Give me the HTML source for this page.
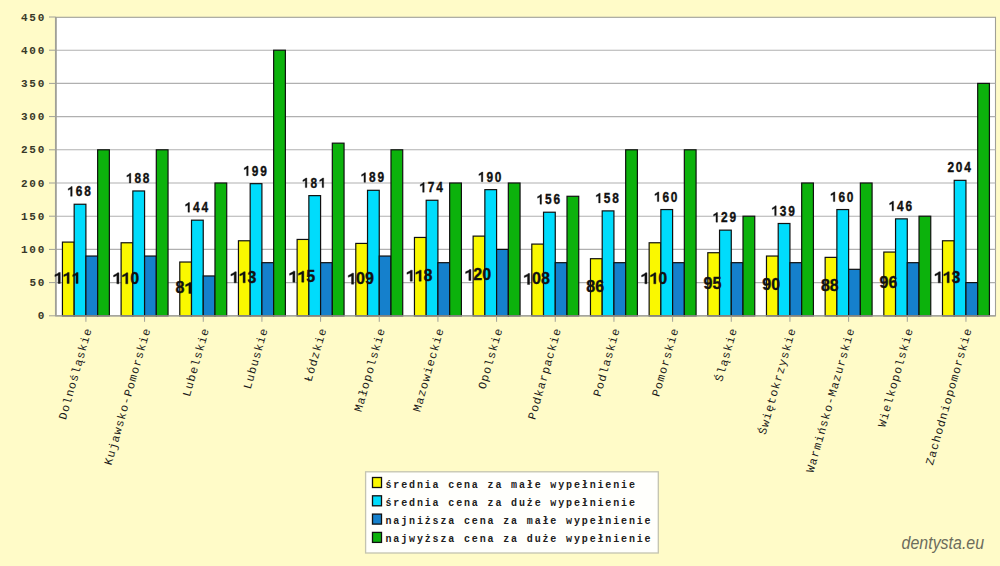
<!DOCTYPE html>
<html><head><meta charset="utf-8"><title>Ceny wypełnień</title><style>html,body{margin:0;padding:0;background:#FFFBC8;overflow:hidden;}svg{display:block;}</style></head><body>
<svg width="1000" height="566" viewBox="0 0 1000 566">
<rect x="0" y="0" width="1000" height="566" fill="#FFFBC8"/>
<rect x="55.50" y="17.30" width="940.00" height="298.50" fill="#FFFFFF" stroke="#A0A098" stroke-width="1.1"/>
<line x1="55.50" y1="282.60" x2="995.50" y2="282.60" stroke="#B0B0B0" stroke-width="1.10"/>
<line x1="55.50" y1="249.40" x2="995.50" y2="249.40" stroke="#B0B0B0" stroke-width="1.10"/>
<line x1="55.50" y1="216.20" x2="995.50" y2="216.20" stroke="#B0B0B0" stroke-width="1.10"/>
<line x1="55.50" y1="183.00" x2="995.50" y2="183.00" stroke="#B0B0B0" stroke-width="1.10"/>
<line x1="55.50" y1="149.80" x2="995.50" y2="149.80" stroke="#B0B0B0" stroke-width="1.10"/>
<line x1="55.50" y1="116.60" x2="995.50" y2="116.60" stroke="#B0B0B0" stroke-width="1.10"/>
<line x1="55.50" y1="83.40" x2="995.50" y2="83.40" stroke="#B0B0B0" stroke-width="1.10"/>
<line x1="55.50" y1="50.20" x2="995.50" y2="50.20" stroke="#B0B0B0" stroke-width="1.10"/>
<line x1="49" y1="315.80" x2="55.50" y2="315.80" stroke="#A0A098" stroke-width="1"/>
<text x="46.20" y="319.30" text-anchor="end" font-family="Liberation Mono, monospace" font-weight="bold" font-size="11.00" letter-spacing="1.80" fill="#383828">0</text>
<line x1="49" y1="282.60" x2="55.50" y2="282.60" stroke="#A0A098" stroke-width="1"/>
<text x="46.20" y="286.10" text-anchor="end" font-family="Liberation Mono, monospace" font-weight="bold" font-size="11.00" letter-spacing="1.80" fill="#383828">50</text>
<line x1="49" y1="249.40" x2="55.50" y2="249.40" stroke="#A0A098" stroke-width="1"/>
<text x="46.20" y="252.90" text-anchor="end" font-family="Liberation Mono, monospace" font-weight="bold" font-size="11.00" letter-spacing="1.80" fill="#383828">100</text>
<line x1="49" y1="216.20" x2="55.50" y2="216.20" stroke="#A0A098" stroke-width="1"/>
<text x="46.20" y="219.70" text-anchor="end" font-family="Liberation Mono, monospace" font-weight="bold" font-size="11.00" letter-spacing="1.80" fill="#383828">150</text>
<line x1="49" y1="183.00" x2="55.50" y2="183.00" stroke="#A0A098" stroke-width="1"/>
<text x="46.20" y="186.50" text-anchor="end" font-family="Liberation Mono, monospace" font-weight="bold" font-size="11.00" letter-spacing="1.80" fill="#383828">200</text>
<line x1="49" y1="149.80" x2="55.50" y2="149.80" stroke="#A0A098" stroke-width="1"/>
<text x="46.20" y="153.30" text-anchor="end" font-family="Liberation Mono, monospace" font-weight="bold" font-size="11.00" letter-spacing="1.80" fill="#383828">250</text>
<line x1="49" y1="116.60" x2="55.50" y2="116.60" stroke="#A0A098" stroke-width="1"/>
<text x="46.20" y="120.10" text-anchor="end" font-family="Liberation Mono, monospace" font-weight="bold" font-size="11.00" letter-spacing="1.80" fill="#383828">300</text>
<line x1="49" y1="83.40" x2="55.50" y2="83.40" stroke="#A0A098" stroke-width="1"/>
<text x="46.20" y="86.90" text-anchor="end" font-family="Liberation Mono, monospace" font-weight="bold" font-size="11.00" letter-spacing="1.80" fill="#383828">350</text>
<line x1="49" y1="50.20" x2="55.50" y2="50.20" stroke="#A0A098" stroke-width="1"/>
<text x="46.20" y="53.70" text-anchor="end" font-family="Liberation Mono, monospace" font-weight="bold" font-size="11.00" letter-spacing="1.80" fill="#383828">400</text>
<line x1="49" y1="17.00" x2="55.50" y2="17.00" stroke="#A0A098" stroke-width="1"/>
<text x="46.20" y="20.50" text-anchor="end" font-family="Liberation Mono, monospace" font-weight="bold" font-size="11.00" letter-spacing="1.80" fill="#383828">450</text>
<rect x="62.44" y="242.10" width="11.73" height="73.70" fill="#FAF800" stroke="#101010" stroke-width="1.20"/>
<rect x="74.17" y="204.25" width="11.73" height="111.55" fill="#00DCFC" stroke="#101010" stroke-width="1.20"/>
<rect x="85.91" y="256.04" width="11.73" height="59.76" fill="#1580CC" stroke="#101010" stroke-width="1.20"/>
<rect x="97.64" y="149.80" width="11.73" height="166.00" fill="#0CB20C" stroke="#101010" stroke-width="1.20"/>
<rect x="121.11" y="242.76" width="11.73" height="73.04" fill="#FAF800" stroke="#101010" stroke-width="1.20"/>
<rect x="132.84" y="190.97" width="11.73" height="124.83" fill="#00DCFC" stroke="#101010" stroke-width="1.20"/>
<rect x="144.58" y="256.04" width="11.73" height="59.76" fill="#1580CC" stroke="#101010" stroke-width="1.20"/>
<rect x="156.31" y="149.80" width="11.73" height="166.00" fill="#0CB20C" stroke="#101010" stroke-width="1.20"/>
<rect x="179.78" y="262.02" width="11.73" height="53.78" fill="#FAF800" stroke="#101010" stroke-width="1.20"/>
<rect x="191.51" y="220.18" width="11.73" height="95.62" fill="#00DCFC" stroke="#101010" stroke-width="1.20"/>
<rect x="203.24" y="275.96" width="11.73" height="39.84" fill="#1580CC" stroke="#101010" stroke-width="1.20"/>
<rect x="214.98" y="183.00" width="11.73" height="132.80" fill="#0CB20C" stroke="#101010" stroke-width="1.20"/>
<rect x="238.45" y="240.77" width="11.73" height="75.03" fill="#FAF800" stroke="#101010" stroke-width="1.20"/>
<rect x="250.18" y="183.66" width="11.73" height="132.14" fill="#00DCFC" stroke="#101010" stroke-width="1.20"/>
<rect x="261.91" y="262.68" width="11.73" height="53.12" fill="#1580CC" stroke="#101010" stroke-width="1.20"/>
<rect x="273.65" y="50.20" width="11.73" height="265.60" fill="#0CB20C" stroke="#101010" stroke-width="1.20"/>
<rect x="297.12" y="239.44" width="11.73" height="76.36" fill="#FAF800" stroke="#101010" stroke-width="1.20"/>
<rect x="308.85" y="195.62" width="11.73" height="120.18" fill="#00DCFC" stroke="#101010" stroke-width="1.20"/>
<rect x="320.59" y="262.68" width="11.73" height="53.12" fill="#1580CC" stroke="#101010" stroke-width="1.20"/>
<rect x="332.32" y="143.16" width="11.73" height="172.64" fill="#0CB20C" stroke="#101010" stroke-width="1.20"/>
<rect x="355.79" y="243.42" width="11.73" height="72.38" fill="#FAF800" stroke="#101010" stroke-width="1.20"/>
<rect x="367.52" y="190.30" width="11.73" height="125.50" fill="#00DCFC" stroke="#101010" stroke-width="1.20"/>
<rect x="379.26" y="256.04" width="11.73" height="59.76" fill="#1580CC" stroke="#101010" stroke-width="1.20"/>
<rect x="390.99" y="149.80" width="11.73" height="166.00" fill="#0CB20C" stroke="#101010" stroke-width="1.20"/>
<rect x="414.46" y="237.45" width="11.73" height="78.35" fill="#FAF800" stroke="#101010" stroke-width="1.20"/>
<rect x="426.19" y="200.26" width="11.73" height="115.54" fill="#00DCFC" stroke="#101010" stroke-width="1.20"/>
<rect x="437.93" y="262.68" width="11.73" height="53.12" fill="#1580CC" stroke="#101010" stroke-width="1.20"/>
<rect x="449.66" y="183.00" width="11.73" height="132.80" fill="#0CB20C" stroke="#101010" stroke-width="1.20"/>
<rect x="473.13" y="236.12" width="11.73" height="79.68" fill="#FAF800" stroke="#101010" stroke-width="1.20"/>
<rect x="484.86" y="189.64" width="11.73" height="126.16" fill="#00DCFC" stroke="#101010" stroke-width="1.20"/>
<rect x="496.60" y="249.40" width="11.73" height="66.40" fill="#1580CC" stroke="#101010" stroke-width="1.20"/>
<rect x="508.33" y="183.00" width="11.73" height="132.80" fill="#0CB20C" stroke="#101010" stroke-width="1.20"/>
<rect x="531.80" y="244.09" width="11.73" height="71.71" fill="#FAF800" stroke="#101010" stroke-width="1.20"/>
<rect x="543.53" y="212.22" width="11.73" height="103.58" fill="#00DCFC" stroke="#101010" stroke-width="1.20"/>
<rect x="555.26" y="262.68" width="11.73" height="53.12" fill="#1580CC" stroke="#101010" stroke-width="1.20"/>
<rect x="567.00" y="196.28" width="11.73" height="119.52" fill="#0CB20C" stroke="#101010" stroke-width="1.20"/>
<rect x="590.47" y="258.70" width="11.73" height="57.10" fill="#FAF800" stroke="#101010" stroke-width="1.20"/>
<rect x="602.20" y="210.89" width="11.73" height="104.91" fill="#00DCFC" stroke="#101010" stroke-width="1.20"/>
<rect x="613.93" y="262.68" width="11.73" height="53.12" fill="#1580CC" stroke="#101010" stroke-width="1.20"/>
<rect x="625.67" y="149.80" width="11.73" height="166.00" fill="#0CB20C" stroke="#101010" stroke-width="1.20"/>
<rect x="649.14" y="242.76" width="11.73" height="73.04" fill="#FAF800" stroke="#101010" stroke-width="1.20"/>
<rect x="660.87" y="209.56" width="11.73" height="106.24" fill="#00DCFC" stroke="#101010" stroke-width="1.20"/>
<rect x="672.61" y="262.68" width="11.73" height="53.12" fill="#1580CC" stroke="#101010" stroke-width="1.20"/>
<rect x="684.34" y="149.80" width="11.73" height="166.00" fill="#0CB20C" stroke="#101010" stroke-width="1.20"/>
<rect x="707.81" y="252.72" width="11.73" height="63.08" fill="#FAF800" stroke="#101010" stroke-width="1.20"/>
<rect x="719.54" y="230.14" width="11.73" height="85.66" fill="#00DCFC" stroke="#101010" stroke-width="1.20"/>
<rect x="731.27" y="262.68" width="11.73" height="53.12" fill="#1580CC" stroke="#101010" stroke-width="1.20"/>
<rect x="743.01" y="216.20" width="11.73" height="99.60" fill="#0CB20C" stroke="#101010" stroke-width="1.20"/>
<rect x="766.48" y="256.04" width="11.73" height="59.76" fill="#FAF800" stroke="#101010" stroke-width="1.20"/>
<rect x="778.21" y="223.50" width="11.73" height="92.30" fill="#00DCFC" stroke="#101010" stroke-width="1.20"/>
<rect x="789.94" y="262.68" width="11.73" height="53.12" fill="#1580CC" stroke="#101010" stroke-width="1.20"/>
<rect x="801.68" y="183.00" width="11.73" height="132.80" fill="#0CB20C" stroke="#101010" stroke-width="1.20"/>
<rect x="825.15" y="257.37" width="11.73" height="58.43" fill="#FAF800" stroke="#101010" stroke-width="1.20"/>
<rect x="836.88" y="209.56" width="11.73" height="106.24" fill="#00DCFC" stroke="#101010" stroke-width="1.20"/>
<rect x="848.62" y="269.32" width="11.73" height="46.48" fill="#1580CC" stroke="#101010" stroke-width="1.20"/>
<rect x="860.35" y="183.00" width="11.73" height="132.80" fill="#0CB20C" stroke="#101010" stroke-width="1.20"/>
<rect x="883.82" y="252.06" width="11.73" height="63.74" fill="#FAF800" stroke="#101010" stroke-width="1.20"/>
<rect x="895.55" y="218.86" width="11.73" height="96.94" fill="#00DCFC" stroke="#101010" stroke-width="1.20"/>
<rect x="907.28" y="262.68" width="11.73" height="53.12" fill="#1580CC" stroke="#101010" stroke-width="1.20"/>
<rect x="919.02" y="216.20" width="11.73" height="99.60" fill="#0CB20C" stroke="#101010" stroke-width="1.20"/>
<rect x="942.49" y="240.77" width="11.73" height="75.03" fill="#FAF800" stroke="#101010" stroke-width="1.20"/>
<rect x="954.22" y="180.34" width="11.73" height="135.46" fill="#00DCFC" stroke="#101010" stroke-width="1.20"/>
<rect x="965.96" y="282.60" width="11.73" height="33.20" fill="#1580CC" stroke="#101010" stroke-width="1.20"/>
<rect x="977.69" y="83.40" width="11.73" height="232.40" fill="#0CB20C" stroke="#101010" stroke-width="1.20"/>
<line x1="56.00" y1="17.00" x2="56.00" y2="315.80" stroke="#A0A098" stroke-width="1.60"/>
<line x1="55.50" y1="315.80" x2="995.50" y2="315.80" stroke="#A0A098" stroke-width="1.2"/>
<line x1="85.91" y1="315.80" x2="85.91" y2="321.80" stroke="#A0A098" stroke-width="1"/>
<line x1="144.57" y1="315.80" x2="144.57" y2="321.80" stroke="#A0A098" stroke-width="1"/>
<line x1="203.25" y1="315.80" x2="203.25" y2="321.80" stroke="#A0A098" stroke-width="1"/>
<line x1="261.92" y1="315.80" x2="261.92" y2="321.80" stroke="#A0A098" stroke-width="1"/>
<line x1="320.58" y1="315.80" x2="320.58" y2="321.80" stroke="#A0A098" stroke-width="1"/>
<line x1="379.25" y1="315.80" x2="379.25" y2="321.80" stroke="#A0A098" stroke-width="1"/>
<line x1="437.93" y1="315.80" x2="437.93" y2="321.80" stroke="#A0A098" stroke-width="1"/>
<line x1="496.60" y1="315.80" x2="496.60" y2="321.80" stroke="#A0A098" stroke-width="1"/>
<line x1="555.26" y1="315.80" x2="555.26" y2="321.80" stroke="#A0A098" stroke-width="1"/>
<line x1="613.94" y1="315.80" x2="613.94" y2="321.80" stroke="#A0A098" stroke-width="1"/>
<line x1="672.61" y1="315.80" x2="672.61" y2="321.80" stroke="#A0A098" stroke-width="1"/>
<line x1="731.28" y1="315.80" x2="731.28" y2="321.80" stroke="#A0A098" stroke-width="1"/>
<line x1="789.95" y1="315.80" x2="789.95" y2="321.80" stroke="#A0A098" stroke-width="1"/>
<line x1="848.62" y1="315.80" x2="848.62" y2="321.80" stroke="#A0A098" stroke-width="1"/>
<line x1="907.29" y1="315.80" x2="907.29" y2="321.80" stroke="#A0A098" stroke-width="1"/>
<line x1="965.96" y1="315.80" x2="965.96" y2="321.80" stroke="#A0A098" stroke-width="1"/>
<g transform="translate(67.10 283.48) scale(1.000 1)"><text x="-13.35" y="0" font-family="Liberation Sans, sans-serif" font-weight="bold" font-size="16.00" letter-spacing="0.00" fill="#111" stroke="#111" stroke-width="0.40">   </text><path transform="translate(-13.35 0) scale(0.00781 -0.00781)" d="M565 0L565 1050L150 880L150 1110L520 1290L640 1409L836 1409L836 0Z" fill="#111" stroke="#111" stroke-width="51.2"/><path transform="translate(-4.45 0) scale(0.00781 -0.00781)" d="M565 0L565 1050L150 880L150 1110L520 1290L640 1409L836 1409L836 0Z" fill="#111" stroke="#111" stroke-width="51.2"/><path transform="translate(4.45 0) scale(0.00781 -0.00781)" d="M565 0L565 1050L150 880L150 1110L520 1290L640 1409L836 1409L836 0Z" fill="#111" stroke="#111" stroke-width="51.2"/></g>
<g transform="translate(79.04 196.25) scale(0.850 1)"><text x="-13.78" y="0" font-family="Liberation Sans, sans-serif" font-weight="bold" font-size="14.00" letter-spacing="2.10" fill="#111" stroke="#111" stroke-width="0.35"> 68</text><path transform="translate(-13.78 0) scale(0.00684 -0.00684)" d="M565 0L565 1050L150 880L150 1110L520 1290L640 1409L836 1409L836 0Z" fill="#111" stroke="#111" stroke-width="51.2"/></g>
<g transform="translate(125.77 283.81) scale(1.000 1)"><text x="-13.35" y="0" font-family="Liberation Sans, sans-serif" font-weight="bold" font-size="16.00" letter-spacing="0.00" fill="#111" stroke="#111" stroke-width="0.40">  0</text><path transform="translate(-13.35 0) scale(0.00781 -0.00781)" d="M565 0L565 1050L150 880L150 1110L520 1290L640 1409L836 1409L836 0Z" fill="#111" stroke="#111" stroke-width="51.2"/><path transform="translate(-4.45 0) scale(0.00781 -0.00781)" d="M565 0L565 1050L150 880L150 1110L520 1290L640 1409L836 1409L836 0Z" fill="#111" stroke="#111" stroke-width="51.2"/></g>
<g transform="translate(137.71 182.97) scale(0.850 1)"><text x="-13.78" y="0" font-family="Liberation Sans, sans-serif" font-weight="bold" font-size="14.00" letter-spacing="2.10" fill="#111" stroke="#111" stroke-width="0.35"> 88</text><path transform="translate(-13.78 0) scale(0.00684 -0.00684)" d="M565 0L565 1050L150 880L150 1110L520 1290L640 1409L836 1409L836 0Z" fill="#111" stroke="#111" stroke-width="51.2"/></g>
<g transform="translate(184.44 293.44) scale(1.000 1)"><text x="-8.90" y="0" font-family="Liberation Sans, sans-serif" font-weight="bold" font-size="16.00" letter-spacing="0.00" fill="#111" stroke="#111" stroke-width="0.40">8 </text><path transform="translate(0.00 0) scale(0.00781 -0.00781)" d="M565 0L565 1050L150 880L150 1110L520 1290L640 1409L836 1409L836 0Z" fill="#111" stroke="#111" stroke-width="51.2"/></g>
<g transform="translate(196.38 212.18) scale(0.850 1)"><text x="-13.78" y="0" font-family="Liberation Sans, sans-serif" font-weight="bold" font-size="14.00" letter-spacing="2.10" fill="#111" stroke="#111" stroke-width="0.35"> 44</text><path transform="translate(-13.78 0) scale(0.00684 -0.00684)" d="M565 0L565 1050L150 880L150 1110L520 1290L640 1409L836 1409L836 0Z" fill="#111" stroke="#111" stroke-width="51.2"/></g>
<g transform="translate(243.11 282.81) scale(1.000 1)"><text x="-13.35" y="0" font-family="Liberation Sans, sans-serif" font-weight="bold" font-size="16.00" letter-spacing="0.00" fill="#111" stroke="#111" stroke-width="0.40">  3</text><path transform="translate(-13.35 0) scale(0.00781 -0.00781)" d="M565 0L565 1050L150 880L150 1110L520 1290L640 1409L836 1409L836 0Z" fill="#111" stroke="#111" stroke-width="51.2"/><path transform="translate(-4.45 0) scale(0.00781 -0.00781)" d="M565 0L565 1050L150 880L150 1110L520 1290L640 1409L836 1409L836 0Z" fill="#111" stroke="#111" stroke-width="51.2"/></g>
<g transform="translate(255.05 175.66) scale(0.850 1)"><text x="-13.78" y="0" font-family="Liberation Sans, sans-serif" font-weight="bold" font-size="14.00" letter-spacing="2.10" fill="#111" stroke="#111" stroke-width="0.35"> 99</text><path transform="translate(-13.78 0) scale(0.00684 -0.00684)" d="M565 0L565 1050L150 880L150 1110L520 1290L640 1409L836 1409L836 0Z" fill="#111" stroke="#111" stroke-width="51.2"/></g>
<g transform="translate(301.78 282.15) scale(1.000 1)"><text x="-13.35" y="0" font-family="Liberation Sans, sans-serif" font-weight="bold" font-size="16.00" letter-spacing="0.00" fill="#111" stroke="#111" stroke-width="0.40">  5</text><path transform="translate(-13.35 0) scale(0.00781 -0.00781)" d="M565 0L565 1050L150 880L150 1110L520 1290L640 1409L836 1409L836 0Z" fill="#111" stroke="#111" stroke-width="51.2"/><path transform="translate(-4.45 0) scale(0.00781 -0.00781)" d="M565 0L565 1050L150 880L150 1110L520 1290L640 1409L836 1409L836 0Z" fill="#111" stroke="#111" stroke-width="51.2"/></g>
<g transform="translate(313.72 187.62) scale(0.850 1)"><text x="-13.78" y="0" font-family="Liberation Sans, sans-serif" font-weight="bold" font-size="14.00" letter-spacing="2.10" fill="#111" stroke="#111" stroke-width="0.35"> 8 </text><path transform="translate(-13.78 0) scale(0.00684 -0.00684)" d="M565 0L565 1050L150 880L150 1110L520 1290L640 1409L836 1409L836 0Z" fill="#111" stroke="#111" stroke-width="51.2"/><path transform="translate(5.99 0) scale(0.00684 -0.00684)" d="M565 0L565 1050L150 880L150 1110L520 1290L640 1409L836 1409L836 0Z" fill="#111" stroke="#111" stroke-width="51.2"/></g>
<g transform="translate(360.45 284.14) scale(1.000 1)"><text x="-13.35" y="0" font-family="Liberation Sans, sans-serif" font-weight="bold" font-size="16.00" letter-spacing="0.00" fill="#111" stroke="#111" stroke-width="0.40"> 09</text><path transform="translate(-13.35 0) scale(0.00781 -0.00781)" d="M565 0L565 1050L150 880L150 1110L520 1290L640 1409L836 1409L836 0Z" fill="#111" stroke="#111" stroke-width="51.2"/></g>
<g transform="translate(372.39 182.30) scale(0.850 1)"><text x="-13.78" y="0" font-family="Liberation Sans, sans-serif" font-weight="bold" font-size="14.00" letter-spacing="2.10" fill="#111" stroke="#111" stroke-width="0.35"> 89</text><path transform="translate(-13.78 0) scale(0.00684 -0.00684)" d="M565 0L565 1050L150 880L150 1110L520 1290L640 1409L836 1409L836 0Z" fill="#111" stroke="#111" stroke-width="51.2"/></g>
<g transform="translate(419.12 281.15) scale(1.000 1)"><text x="-13.35" y="0" font-family="Liberation Sans, sans-serif" font-weight="bold" font-size="16.00" letter-spacing="0.00" fill="#111" stroke="#111" stroke-width="0.40">  8</text><path transform="translate(-13.35 0) scale(0.00781 -0.00781)" d="M565 0L565 1050L150 880L150 1110L520 1290L640 1409L836 1409L836 0Z" fill="#111" stroke="#111" stroke-width="51.2"/><path transform="translate(-4.45 0) scale(0.00781 -0.00781)" d="M565 0L565 1050L150 880L150 1110L520 1290L640 1409L836 1409L836 0Z" fill="#111" stroke="#111" stroke-width="51.2"/></g>
<g transform="translate(431.06 192.26) scale(0.850 1)"><text x="-13.78" y="0" font-family="Liberation Sans, sans-serif" font-weight="bold" font-size="14.00" letter-spacing="2.10" fill="#111" stroke="#111" stroke-width="0.35"> 74</text><path transform="translate(-13.78 0) scale(0.00684 -0.00684)" d="M565 0L565 1050L150 880L150 1110L520 1290L640 1409L836 1409L836 0Z" fill="#111" stroke="#111" stroke-width="51.2"/></g>
<g transform="translate(477.79 280.49) scale(1.000 1)"><text x="-13.35" y="0" font-family="Liberation Sans, sans-serif" font-weight="bold" font-size="16.00" letter-spacing="0.00" fill="#111" stroke="#111" stroke-width="0.40"> 20</text><path transform="translate(-13.35 0) scale(0.00781 -0.00781)" d="M565 0L565 1050L150 880L150 1110L520 1290L640 1409L836 1409L836 0Z" fill="#111" stroke="#111" stroke-width="51.2"/></g>
<g transform="translate(489.73 181.64) scale(0.850 1)"><text x="-13.78" y="0" font-family="Liberation Sans, sans-serif" font-weight="bold" font-size="14.00" letter-spacing="2.10" fill="#111" stroke="#111" stroke-width="0.35"> 90</text><path transform="translate(-13.78 0) scale(0.00684 -0.00684)" d="M565 0L565 1050L150 880L150 1110L520 1290L640 1409L836 1409L836 0Z" fill="#111" stroke="#111" stroke-width="51.2"/></g>
<g transform="translate(536.46 284.47) scale(1.000 1)"><text x="-13.35" y="0" font-family="Liberation Sans, sans-serif" font-weight="bold" font-size="16.00" letter-spacing="0.00" fill="#111" stroke="#111" stroke-width="0.40"> 08</text><path transform="translate(-13.35 0) scale(0.00781 -0.00781)" d="M565 0L565 1050L150 880L150 1110L520 1290L640 1409L836 1409L836 0Z" fill="#111" stroke="#111" stroke-width="51.2"/></g>
<g transform="translate(548.40 204.22) scale(0.850 1)"><text x="-13.78" y="0" font-family="Liberation Sans, sans-serif" font-weight="bold" font-size="14.00" letter-spacing="2.10" fill="#111" stroke="#111" stroke-width="0.35"> 56</text><path transform="translate(-13.78 0) scale(0.00684 -0.00684)" d="M565 0L565 1050L150 880L150 1110L520 1290L640 1409L836 1409L836 0Z" fill="#111" stroke="#111" stroke-width="51.2"/></g>
<g transform="translate(595.13 291.78) scale(1.000 1)"><text x="-8.90" y="0" font-family="Liberation Sans, sans-serif" font-weight="bold" font-size="16.00" letter-spacing="0.00" fill="#111" stroke="#111" stroke-width="0.40">86</text></g>
<g transform="translate(607.07 202.89) scale(0.850 1)"><text x="-13.78" y="0" font-family="Liberation Sans, sans-serif" font-weight="bold" font-size="14.00" letter-spacing="2.10" fill="#111" stroke="#111" stroke-width="0.35"> 58</text><path transform="translate(-13.78 0) scale(0.00684 -0.00684)" d="M565 0L565 1050L150 880L150 1110L520 1290L640 1409L836 1409L836 0Z" fill="#111" stroke="#111" stroke-width="51.2"/></g>
<g transform="translate(653.80 283.81) scale(1.000 1)"><text x="-13.35" y="0" font-family="Liberation Sans, sans-serif" font-weight="bold" font-size="16.00" letter-spacing="0.00" fill="#111" stroke="#111" stroke-width="0.40">  0</text><path transform="translate(-13.35 0) scale(0.00781 -0.00781)" d="M565 0L565 1050L150 880L150 1110L520 1290L640 1409L836 1409L836 0Z" fill="#111" stroke="#111" stroke-width="51.2"/><path transform="translate(-4.45 0) scale(0.00781 -0.00781)" d="M565 0L565 1050L150 880L150 1110L520 1290L640 1409L836 1409L836 0Z" fill="#111" stroke="#111" stroke-width="51.2"/></g>
<g transform="translate(665.74 201.56) scale(0.850 1)"><text x="-13.78" y="0" font-family="Liberation Sans, sans-serif" font-weight="bold" font-size="14.00" letter-spacing="2.10" fill="#111" stroke="#111" stroke-width="0.35"> 60</text><path transform="translate(-13.78 0) scale(0.00684 -0.00684)" d="M565 0L565 1050L150 880L150 1110L520 1290L640 1409L836 1409L836 0Z" fill="#111" stroke="#111" stroke-width="51.2"/></g>
<g transform="translate(712.47 288.79) scale(1.000 1)"><text x="-8.90" y="0" font-family="Liberation Sans, sans-serif" font-weight="bold" font-size="16.00" letter-spacing="0.00" fill="#111" stroke="#111" stroke-width="0.40">95</text></g>
<g transform="translate(724.41 222.14) scale(0.850 1)"><text x="-13.78" y="0" font-family="Liberation Sans, sans-serif" font-weight="bold" font-size="14.00" letter-spacing="2.10" fill="#111" stroke="#111" stroke-width="0.35"> 29</text><path transform="translate(-13.78 0) scale(0.00684 -0.00684)" d="M565 0L565 1050L150 880L150 1110L520 1290L640 1409L836 1409L836 0Z" fill="#111" stroke="#111" stroke-width="51.2"/></g>
<g transform="translate(771.14 290.45) scale(1.000 1)"><text x="-8.90" y="0" font-family="Liberation Sans, sans-serif" font-weight="bold" font-size="16.00" letter-spacing="0.00" fill="#111" stroke="#111" stroke-width="0.40">90</text></g>
<g transform="translate(783.08 215.50) scale(0.850 1)"><text x="-13.78" y="0" font-family="Liberation Sans, sans-serif" font-weight="bold" font-size="14.00" letter-spacing="2.10" fill="#111" stroke="#111" stroke-width="0.35"> 39</text><path transform="translate(-13.78 0) scale(0.00684 -0.00684)" d="M565 0L565 1050L150 880L150 1110L520 1290L640 1409L836 1409L836 0Z" fill="#111" stroke="#111" stroke-width="51.2"/></g>
<g transform="translate(829.81 291.11) scale(1.000 1)"><text x="-8.90" y="0" font-family="Liberation Sans, sans-serif" font-weight="bold" font-size="16.00" letter-spacing="0.00" fill="#111" stroke="#111" stroke-width="0.40">88</text></g>
<g transform="translate(841.75 201.56) scale(0.850 1)"><text x="-13.78" y="0" font-family="Liberation Sans, sans-serif" font-weight="bold" font-size="14.00" letter-spacing="2.10" fill="#111" stroke="#111" stroke-width="0.35"> 60</text><path transform="translate(-13.78 0) scale(0.00684 -0.00684)" d="M565 0L565 1050L150 880L150 1110L520 1290L640 1409L836 1409L836 0Z" fill="#111" stroke="#111" stroke-width="51.2"/></g>
<g transform="translate(888.48 288.46) scale(1.000 1)"><text x="-8.90" y="0" font-family="Liberation Sans, sans-serif" font-weight="bold" font-size="16.00" letter-spacing="0.00" fill="#111" stroke="#111" stroke-width="0.40">96</text></g>
<g transform="translate(900.42 210.86) scale(0.850 1)"><text x="-13.78" y="0" font-family="Liberation Sans, sans-serif" font-weight="bold" font-size="14.00" letter-spacing="2.10" fill="#111" stroke="#111" stroke-width="0.35"> 46</text><path transform="translate(-13.78 0) scale(0.00684 -0.00684)" d="M565 0L565 1050L150 880L150 1110L520 1290L640 1409L836 1409L836 0Z" fill="#111" stroke="#111" stroke-width="51.2"/></g>
<g transform="translate(947.15 282.81) scale(1.000 1)"><text x="-13.35" y="0" font-family="Liberation Sans, sans-serif" font-weight="bold" font-size="16.00" letter-spacing="0.00" fill="#111" stroke="#111" stroke-width="0.40">  3</text><path transform="translate(-13.35 0) scale(0.00781 -0.00781)" d="M565 0L565 1050L150 880L150 1110L520 1290L640 1409L836 1409L836 0Z" fill="#111" stroke="#111" stroke-width="51.2"/><path transform="translate(-4.45 0) scale(0.00781 -0.00781)" d="M565 0L565 1050L150 880L150 1110L520 1290L640 1409L836 1409L836 0Z" fill="#111" stroke="#111" stroke-width="51.2"/></g>
<g transform="translate(959.09 172.34) scale(0.850 1)"><text x="-13.78" y="0" font-family="Liberation Sans, sans-serif" font-weight="bold" font-size="14.00" letter-spacing="2.10" fill="#111" stroke="#111" stroke-width="0.35">204</text></g>
<text transform="translate(91.91 329.00) rotate(-74.00)" text-anchor="end" font-family="Liberation Mono, monospace" font-weight="normal" font-size="11.50" letter-spacing="1.00" fill="#1a1a1a" stroke="#1a1a1a" stroke-width="0.00">Dolnośląskie</text>
<text transform="translate(150.57 329.00) rotate(-74.00)" text-anchor="end" font-family="Liberation Mono, monospace" font-weight="normal" font-size="11.50" letter-spacing="1.00" fill="#1a1a1a" stroke="#1a1a1a" stroke-width="0.00">Kujawsko-Pomorskie</text>
<text transform="translate(209.25 329.00) rotate(-74.00)" text-anchor="end" font-family="Liberation Mono, monospace" font-weight="normal" font-size="11.50" letter-spacing="1.00" fill="#1a1a1a" stroke="#1a1a1a" stroke-width="0.00">Lubelskie</text>
<text transform="translate(267.92 329.00) rotate(-74.00)" text-anchor="end" font-family="Liberation Mono, monospace" font-weight="normal" font-size="11.50" letter-spacing="1.00" fill="#1a1a1a" stroke="#1a1a1a" stroke-width="0.00">Lubuskie</text>
<text transform="translate(326.58 329.00) rotate(-74.00)" text-anchor="end" font-family="Liberation Mono, monospace" font-weight="normal" font-size="11.50" letter-spacing="1.00" fill="#1a1a1a" stroke="#1a1a1a" stroke-width="0.00">Łódzkie</text>
<text transform="translate(385.25 329.00) rotate(-74.00)" text-anchor="end" font-family="Liberation Mono, monospace" font-weight="normal" font-size="11.50" letter-spacing="1.00" fill="#1a1a1a" stroke="#1a1a1a" stroke-width="0.00">Małopolskie</text>
<text transform="translate(443.93 329.00) rotate(-74.00)" text-anchor="end" font-family="Liberation Mono, monospace" font-weight="normal" font-size="11.50" letter-spacing="1.00" fill="#1a1a1a" stroke="#1a1a1a" stroke-width="0.00">Mazowieckie</text>
<text transform="translate(502.60 329.00) rotate(-74.00)" text-anchor="end" font-family="Liberation Mono, monospace" font-weight="normal" font-size="11.50" letter-spacing="1.00" fill="#1a1a1a" stroke="#1a1a1a" stroke-width="0.00">Opolskie</text>
<text transform="translate(561.26 329.00) rotate(-74.00)" text-anchor="end" font-family="Liberation Mono, monospace" font-weight="normal" font-size="11.50" letter-spacing="1.00" fill="#1a1a1a" stroke="#1a1a1a" stroke-width="0.00">Podkarpackie</text>
<text transform="translate(619.94 329.00) rotate(-74.00)" text-anchor="end" font-family="Liberation Mono, monospace" font-weight="normal" font-size="11.50" letter-spacing="1.00" fill="#1a1a1a" stroke="#1a1a1a" stroke-width="0.00">Podlaskie</text>
<text transform="translate(678.61 329.00) rotate(-74.00)" text-anchor="end" font-family="Liberation Mono, monospace" font-weight="normal" font-size="11.50" letter-spacing="1.00" fill="#1a1a1a" stroke="#1a1a1a" stroke-width="0.00">Pomorskie</text>
<text transform="translate(737.28 329.00) rotate(-74.00)" text-anchor="end" font-family="Liberation Mono, monospace" font-weight="normal" font-size="11.50" letter-spacing="1.00" fill="#1a1a1a" stroke="#1a1a1a" stroke-width="0.00">Śląskie</text>
<text transform="translate(795.95 329.00) rotate(-74.00)" text-anchor="end" font-family="Liberation Mono, monospace" font-weight="normal" font-size="11.50" letter-spacing="1.00" fill="#1a1a1a" stroke="#1a1a1a" stroke-width="0.00">Świętokrzyskie</text>
<text transform="translate(854.62 329.00) rotate(-74.00)" text-anchor="end" font-family="Liberation Mono, monospace" font-weight="normal" font-size="11.50" letter-spacing="1.00" fill="#1a1a1a" stroke="#1a1a1a" stroke-width="0.00">Warmińsko-Mazurskie</text>
<text transform="translate(913.29 329.00) rotate(-74.00)" text-anchor="end" font-family="Liberation Mono, monospace" font-weight="normal" font-size="11.50" letter-spacing="1.00" fill="#1a1a1a" stroke="#1a1a1a" stroke-width="0.00">Wielkopolskie</text>
<text transform="translate(971.96 329.00) rotate(-74.00)" text-anchor="end" font-family="Liberation Mono, monospace" font-weight="normal" font-size="11.50" letter-spacing="1.00" fill="#1a1a1a" stroke="#1a1a1a" stroke-width="0.00">Zachodniopomorskie</text>
<rect x="365.6" y="471.8" width="292.7" height="81.2" fill="#FFFFFC" stroke="#C4C4B0" stroke-width="1.3"/>
<rect x="372.5" y="477.50" width="9" height="10" fill="#FAF800" stroke="#101010" stroke-width="1.3"/>
<text x="385.5" y="487.50" font-family="Liberation Mono, monospace" font-weight="bold" font-size="10.00" letter-spacing="1.85" fill="#202020">średnia cena za małe wypełnienie</text>
<rect x="372.5" y="495.80" width="9" height="10" fill="#00DCFC" stroke="#101010" stroke-width="1.3"/>
<text x="385.5" y="505.80" font-family="Liberation Mono, monospace" font-weight="bold" font-size="10.00" letter-spacing="1.85" fill="#202020">średnia cena za duże wypełnienie</text>
<rect x="372.5" y="514.10" width="9" height="10" fill="#1580CC" stroke="#101010" stroke-width="1.3"/>
<text x="385.5" y="524.10" font-family="Liberation Mono, monospace" font-weight="bold" font-size="10.00" letter-spacing="1.85" fill="#202020">najniższa cena za małe wypełnienie</text>
<rect x="372.5" y="532.40" width="9" height="10" fill="#0CB20C" stroke="#101010" stroke-width="1.3"/>
<text x="385.5" y="542.40" font-family="Liberation Mono, monospace" font-weight="bold" font-size="10.00" letter-spacing="1.85" fill="#202020">najwyższa cena za duże wypełnienie</text>
<text transform="translate(901.60 548.8) scale(0.985 1.120)" font-family="Liberation Sans, sans-serif" font-style="italic" font-size="16.20" fill="#6C6C5C">dentysta.eu</text>
</svg></body></html>
